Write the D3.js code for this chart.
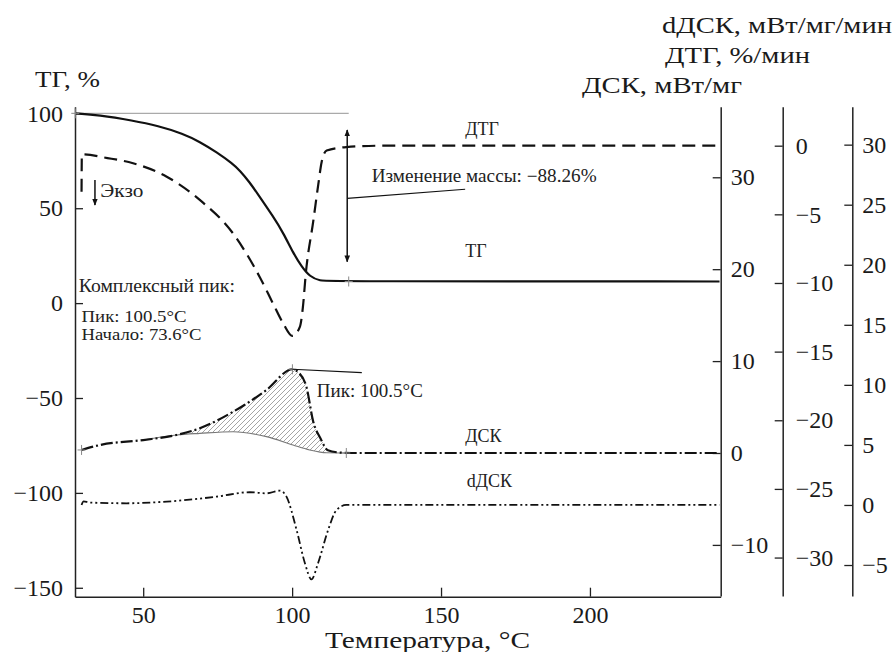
<!DOCTYPE html>
<html>
<head>
<meta charset="utf-8">
<script src="https://cdn.jsdelivr.net/npm/d3@7"></script>
<style>
body { margin: 0; background: #fff; }
svg text { font-family: "Liberation Serif", "Times New Roman", Times, serif; }
</style>
</head>
<body>
<div id="chart-area"></div>
<script>
// temperature, value pairs
var tgData = [[27.2,100],[35,99.1],[46.5,96.2],[55,93.4],[63.4,89.3],[69,85],[74.7,79.5],[80,73.5],[82.5,69.8],[85.8,63.5],[88.1,58.3],[93.7,45.5],[97.1,36.8],[100.4,26.3],[103.2,19.2],[106,13.9],[109.3,11.7],[113,11.5],[243.5,11.4]];
var dtgData = [[29.3,-3.35],[29.4,-0.63],[38,-0.9],[46.6,-1.28],[57.9,-2.26],[69,-3.95],[80.2,-6.4],[84.5,-7.8],[89.2,-9.6],[93.6,-11.5],[97,-12.94],[100.1,-13.86],[102.6,-13.2],[103.6,-11.8],[104.6,-9.3],[107.1,-5.5],[108.8,-2.8],[109.9,-1.2],[111.6,-0.35],[118.2,-0.1],[130,0],[243.5,0]];
var dscData = [[29.3,0.33],[35.5,0.87],[50,1.41],[61.2,1.96],[69,2.69],[80.2,4.49],[91.4,6.86],[100.1,9.11],[102,8.8],[104.8,7.2],[107.1,3.4],[109.5,1.6],[112,0.3],[116,0.05],[120,0],[243.5,0]];
var dscBase = [[29.3,0.33],[50,1.41],[61.2,1.96],[69,2.14],[80.2,2.32],[91.4,1.78],[100.3,0.87],[105.9,0.33],[111.6,0.02],[118,0]];
var ddscData = [[29.3,0],[30,0.3],[32,0.2],[44.4,0.14],[57.9,0.28],[74.6,0.69],[85.8,1.06],[91.4,0.97],[95.9,1.19],[98.1,0.69],[101.5,-2.08],[104.3,-4.85],[106.5,-6.19],[108.7,-4.85],[112.1,-2.08],[114.9,-0.42],[118.2,0],[243.5,0]];

var xTicks = [50, 100, 150, 200];
var tgTicks = [100, 50, 0, -50, -100, -150];
var dscTicks = [30, 20, 10, 0, -10];
var dtgTicks = [0, -5, -10, -15, -20, -25, -30];
var ddscTicks = [30, 25, 20, 15, 10, 5, 0, -5];

var massChange = -88.26;
var peakT = 100.5, onsetT = 73.6;

var width = 895, height = 652;
var svg = d3.select("#chart-area").append("svg")
	.attr("width", width)
	.attr("height", height);

var plotTop = 106.7, plotBottom = 596.7;

var x = d3.scaleLinear().domain([27.1, 243.9]).range([75, 720.7]);
var yTG = d3.scaleLinear().domain([-154.7, 103.5]).range([plotBottom, plotTop]);
var yDSC = d3.scaleLinear().domain([-15.56, 37.68]).range([596, plotTop]);
var yDTG = d3.scaleLinear().domain([-32.8, 2.84]).range([596, plotTop]);
var yDDSC = d3.scaleLinear().domain([-7.58, 33.16]).range([596, plotTop]);

var defs = svg.append("defs");
defs.append("pattern")
	.attr("id", "hatch")
	.attr("patternUnits", "userSpaceOnUse")
	.attr("width", 5).attr("height", 5)
  .append("path")
	.attr("d", "M-1,1 l2,-2 M0,5 l5,-5 M4,6 l2,-2")
	.attr("stroke", "#666")
	.attr("stroke-width", 0.6);

defs.append("marker")
	.attr("id", "ah")
	.attr("viewBox", "0 0 10 10")
	.attr("refX", 9).attr("refY", 5)
	.attr("markerWidth", 7).attr("markerHeight", 9)
	.attr("markerUnits", "userSpaceOnUse")
	.attr("orient", "auto-start-reverse")
  .append("path")
	.attr("d", "M0,1 L10,5 L0,9 Z")
	.attr("fill", "#111");

// axes
function styleAxis(g) {
	g.attr("font-family", null);
	g.select(".domain").attr("stroke", "#222").attr("stroke-width", 1.5);
	g.selectAll(".tick line").attr("stroke", "#222").attr("stroke-width", 1.3);
	g.selectAll(".tick text").attr("fill", "#1a1a1a").attr("font-size", "24px");
}

svg.append("g")
	.attr("transform", "translate(0," + plotBottom + ")")
	.call(d3.axisBottom(x).tickValues(xTicks).tickSizeInner(-9).tickSizeOuter(0).tickPadding(9))
	.call(styleAxis);

svg.append("g")
	.attr("transform", "translate(" + x.range()[0] + ",0)")
	.call(d3.axisLeft(yTG).tickValues(tgTicks).tickSizeInner(-8).tickSizeOuter(0).tickPadding(12))
	.call(styleAxis);

svg.append("g")
	.attr("transform", "translate(" + x.range()[1] + ",0)")
	.call(d3.axisRight(yDSC).tickValues(dscTicks).tickSizeInner(-8).tickSizeOuter(0).tickPadding(10))
	.call(styleAxis);

svg.append("g")
	.attr("transform", "translate(782.7,0)")
	.call(d3.axisRight(yDTG).tickValues(dtgTicks).tickSizeInner(-8).tickSizeOuter(0).tickPadding(13))
	.call(styleAxis);

svg.append("g")
	.attr("transform", "translate(852.3,0)")
	.call(d3.axisRight(yDDSC).tickValues(ddscTicks).tickSizeInner(-8).tickSizeOuter(0).tickPadding(10))
	.call(styleAxis);

// axis titles (start x, baseline y, measured width)
function title(txt, px, py, len) {
	svg.append("text").attr("x", px).attr("y", py)
		.attr("font-size", "24px").attr("fill", "#1a1a1a")
		.attr("textLength", len).attr("lengthAdjust", "spacingAndGlyphs")
		.text(txt);
}
title("ТГ, %", 35, 87, 65);
title("dДСК, мВт/мг/мин", 662, 33, 230);
title("ДТГ, %/мин", 665, 63, 145);
title("ДСК, мВт/мг", 582, 93, 160);
title("Температура, °С", 325, 648, 205);

// reference line at 100 %
svg.append("line")
	.attr("x1", x(27.1)).attr("x2", x(119))
	.attr("y1", yTG(100)).attr("y2", yTG(100))
	.attr("stroke", "#aaa").attr("stroke-width", 1.2);

function lineFor(ys) {
	return d3.line().x(d => x(d[0])).y(d => ys(d[1])).curve(d3.curveMonotoneX);
}

// hatched area between DSC and its baseline
var areaTop = dscData.filter(d => d[0] >= 61.2 && d[0] <= 112);
var areaBot = dscBase.filter(d => d[0] >= 61.2 && d[0] <= 111.6).slice().reverse();
var topPath = lineFor(yDSC)(areaTop);
var botPath = d3.line().x(d => x(d[0])).y(d => yDSC(d[1])).curve(d3.curveCatmullRom)(areaBot);
svg.append("path")
	.attr("d", topPath + "L" + botPath.slice(1) + "Z")
	.attr("fill", "url(#hatch)")
	.attr("stroke", "none");

svg.append("path")
	.attr("d", lineFor(yDSC)(dscBase.filter(d => d[0] >= 50)))
	.attr("fill", "none").attr("stroke", "#777").attr("stroke-width", 1.1);

// curves
svg.append("path")
	.attr("d", d3.line().x(d => x(d[0])).y(d => yTG(d[1])).curve(d3.curveBasis)(tgData))
	.attr("fill", "none").attr("stroke", "#111").attr("stroke-width", 2.2);

svg.append("path")
	.attr("d", lineFor(yDTG)(dtgData))
	.attr("fill", "none").attr("stroke", "#111").attr("stroke-width", 2.2)
	.attr("stroke-dasharray", "13,7");

svg.append("path")
	.attr("d", lineFor(yDSC)(dscData))
	.attr("fill", "none").attr("stroke", "#111").attr("stroke-width", 2.2)
	.attr("stroke-dasharray", "12,3,2,3");

svg.append("path")
	.attr("d", lineFor(yDDSC)(ddscData))
	.attr("fill", "none").attr("stroke", "#111").attr("stroke-width", 1.8)
	.attr("stroke-dasharray", "8,3,2,3,2,3");

// small crosses
var marks = [[27.2, 100, yTG], [119, 11.4, yTG], [29.3, 0.33, yDSC], [100.1, 9.11, yDSC], [118.2, 0, yDSC]];
marks.forEach(function(m) {
	var cx = x(m[0]), cy = m[2](m[1]);
	svg.append("path")
		.attr("d", "M" + (cx - 4) + "," + cy + "h8M" + cx + "," + (cy - 5) + "v10")
		.attr("stroke", "#888").attr("stroke-width", 1);
});

// mass change arrow
var arrowT = 118.5;
svg.append("line")
	.attr("x1", x(arrowT)).attr("x2", x(arrowT))
	.attr("y1", yTG(91.2)).attr("y2", yTG(21.8))
	.attr("stroke", "#111").attr("stroke-width", 1.5)
	.attr("marker-start", "url(#ah)").attr("marker-end", "url(#ah)");
svg.append("line")
	.attr("x1", x(arrowT)).attr("y1", yTG(55.2))
	.attr("x2", x(158.1)).attr("y2", yTG(60))
	.attr("stroke", "#111").attr("stroke-width", 1.2);

function note(txt, t, py, size, len) {
	var el = svg.append("text").attr("x", x(t)).attr("y", py)
		.attr("font-size", size + "px").attr("fill", "#222")
		.text(txt);
	if (len) el.attr("textLength", len).attr("lengthAdjust", "spacingAndGlyphs");
}
note("Изменение массы: " + d3.format(".2f")(massChange).replace("-", "−") + "%", 126.7, 182, 18, 225);

// exo arrow
svg.append("line")
	.attr("x1", x(33.8)).attr("x2", x(33.8))
	.attr("y1", 180).attr("y2", 205)
	.attr("stroke", "#111").attr("stroke-width", 1.5)
	.attr("marker-end", "url(#ah)");
note("Экзо", 35.6, 197, 18, 43);

note("Комплексный пик:", 28.4, 292, 18, 156);
note("Пик: " + peakT + "°С", 29.3, 322, 17, 105);
note("Начало: " + onsetT + "°С", 29.3, 340, 17, 120);

// DSC peak leader
svg.append("line")
	.attr("x1", x(100.1)).attr("y1", yDSC(9.11))
	.attr("x2", x(123.4)).attr("y2", yDSC(8.74))
	.attr("stroke", "#111").attr("stroke-width", 1.2);
note("Пик: " + peakT + "°С", 108.3, 397, 18, 106);

// curve labels
note("ДТГ", 158.1, 135, 18);
note("ТГ", 158.1, 256.5, 18);
note("ДСК", 158.1, 441.5, 18);
note("dДСК", 158.6, 487, 18);
</script>
</body>
</html>
